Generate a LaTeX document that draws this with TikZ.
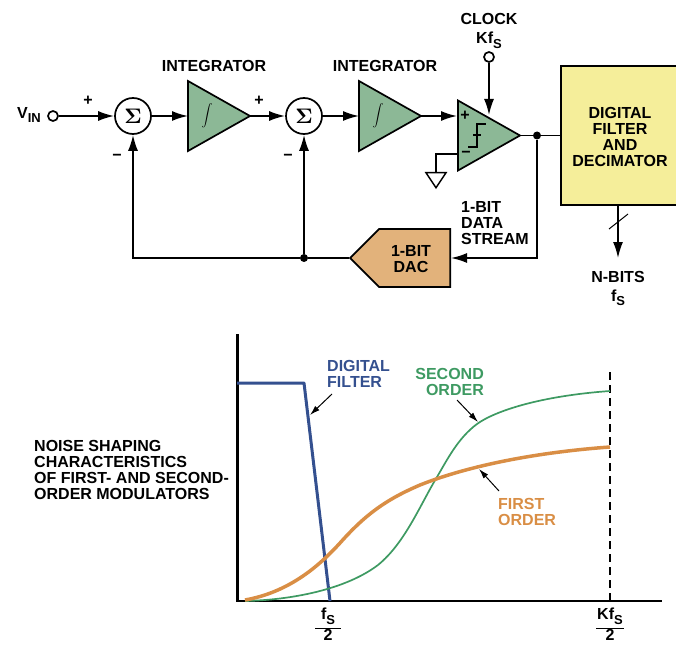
\documentclass[tikz,border=0pt]{standalone}
\usepackage{fontspec}
\usepackage{amsmath}
\setmainfont{Liberation Sans}
\usetikzlibrary{arrows.meta,shapes.geometric,shapes.symbols}
\definecolor{intgreen}{HTML}{8CB896}
\definecolor{boxyellow}{HTML}{F5EE9A}
\definecolor{dactan}{HTML}{E2B27B}
\definecolor{filtblue}{HTML}{34508F}
\definecolor{firstorange}{HTML}{D98E45}
\definecolor{secondgreen}{HTML}{3E9A62}
\def\subs#1{\raisebox{-.3em}{\fontsize{13}{13}\selectfont #1}}
\def\inputy{116}
\def\axisy{601}
\tikzset{
 lab/.style={font=\fontsize{16}{16}\bfseries\selectfont,align=center,inner sep=0pt},
 wire/.style={line width=1.7pt},
 sig/.style={wire,-{Latex[length=16pt,width=10pt]}},
 note/.style={line width=1pt,-{Latex[length=10pt,width=6pt]}},
 term/.style={circle,draw,line width=1.7pt,fill=white,minimum size=10pt,inner sep=0pt},
 sumnode/.style={circle,draw,line width=1.7pt,minimum size=36pt,inner sep=0pt},
 dotnode/.style={circle,fill=black,minimum size=8pt,inner sep=0pt},
 amp/.style={isosceles triangle,isosceles triangle stretches,draw,line width=1.7pt,fill=intgreen,
  minimum height=62pt,minimum width=70pt,inner sep=0pt,outer sep=0pt}
}

\begin{document}
\begin{tikzpicture}[x=1pt,y=-1pt]
 \useasboundingbox (0,0) rectangle (676,644);
 % Blocks
 \node[term] (vin) at (53,\inputy) {};
 \foreach \n/\x in {sumA/133,sumB/304}
  \node[sumnode] (\n) at (\x,\inputy) {\scalebox{2.1}{$\boldsymbol{\Sigma}$}};
 \foreach \n/\x in {intA/250,intB/421} {
  \node[amp,anchor=apex] (\n) at (\x,\inputy) {};
  \node[inner sep=0pt] (\n sym) at (\x-43,\inputy) {\scalebox{1.1}{$\displaystyle\int$}};
 }
 \node[amp,anchor=apex] (comp) at (520,135.5) {};
 \node[term] (clk) at (489,57) {};
 \node[draw,line width=1.7pt,fill=boxyellow,minimum width=118pt,minimum height=139pt,inner sep=0pt] (filter) at (620,135.5) {};
 \node[signal,signal to=west,signal pointer angle=90,draw,line width=1.7pt,fill=dactan,
  minimum width=100pt,minimum height=58pt,inner sep=0pt,anchor=east] (dac) at (451,258) {};
 \node[isosceles triangle,isosceles triangle stretches,shape border rotate=270,draw,line width=1.5pt,
  fill=white,minimum width=20pt,minimum height=15pt,inner sep=0pt,anchor=lower side] (gnd) at (436,172) {};
 % Junctions
 \node[dotnode] (outDot) at (537,135.5) {};
 \node[dotnode] (fbDot) at (304,258) {};
 \coordinate (compIn) at (457,\inputy);
 \coordinate (compNeg) at (457,154);
 \coordinate (clkIn) at (489,115);
 \coordinate (bitsOut) at (618,205);
 \coordinate (bitsEnd) at (618,258);
 % Forward path
 \draw[sig] (vin) -- (sumA);
 \draw[sig] (sumA) -- (intA.lower side);
 \draw[sig] (intA.apex) -- (sumB);
 \draw[sig] (sumB) -- (intB.lower side);
 \draw[sig] (intB.apex) -- (compIn);
 \draw[sig] (clk) -- (clkIn);
 \draw[wire] (comp.apex) -- (filter.west);
 \draw[wire] (compNeg) -| (gnd.lower side);
 \draw[sig] (bitsOut) -- (bitsEnd);
 \draw[line width=1pt] (609,229) -- (628,214);
 % Feedback path
 \draw[sig] (outDot) |- (dac.east);
 \draw[wire] (dac.west) -- (fbDot);
 \draw[sig] (fbDot) -| (sumA);
 \draw[sig] (fbDot) -- (sumB);
 % Comparator step
 \draw[wire] (468,147) -- (477,147) -- (477,124) -- (486,124);
 \draw[wire] (473,135) -- (481,135);
 % Block labels
 \node[lab] (vinLab) at (29,115) {V\subs{IN}};
 \node[lab] (plusA) at (88,101) {+};
 \node[lab] (plusB) at (259,101) {+};
 \node[lab] (plusC) at (465,116) {+};
 \node[lab] (minusA) at (117,157) {\textminus};
 \node[lab] (minusB) at (288,157) {\textminus};
 \node[lab] (minusC) at (466,154) {\textminus};
 \node[lab] (intALab) at (214,66) {INTEGRATOR};
 \node[lab] (intBLab) at (385,66) {INTEGRATOR};
 \node[lab] (clkLab) at (489,31) {CLOCK\\[3pt]Kf\subs{S}};
 \node[lab] (filterLab) at (620,137) {DIGITAL\\FILTER\\AND\\DECIMATOR};
 \node[lab] (dacLab) at (411,259) {1-BIT\\DAC};
 \node[lab,align=left,anchor=west] (streamLab) at (461,223) {1-BIT\\DATA\\STREAM};
 \node[lab] (bitsLab) at (618,288.5) {N-BITS\\[3pt]f\subs{S}};
 \node[lab,align=left,anchor=west] (noiseLab) at (34,470) {NOISE SHAPING\\CHARACTERISTICS\\OF FIRST- AND SECOND-\\ORDER MODULATORS};
 % Axes
 \draw[line width=2.5pt] (237.5,334) -- (237.5,\axisy) -- (662,\axisy);
 \draw[line width=1.5pt,dash pattern=on 8pt off 5pt] (610,372) -- (610,\axisy);
 % Curves
 \draw[filtblue,line width=3pt,line join=round] (237,383) -- (304,383) -- (330,\axisy);
 \draw[secondgreen,line width=1.7pt] (245,601) .. controls (290,600) and (345,590) .. (378,565)
  .. controls (405,543) and (420,505) .. (437,477) .. controls (447,460) and (458,438) .. (477,424)
  .. controls (495,411) and (540,396) .. (610,391);
 \draw[firstorange,line width=3.5pt] (245,600) .. controls (290,592) and (320,565) .. (340,543)
  .. controls (365,515) and (385,500) .. (420,485) .. controls (470,465) and (540,452) .. (610,447);
 % Curve labels
 \node[lab,text=filtblue,align=left,anchor=west] (filtLab) at (327,374) {DIGITAL\\FILTER};
 \node[lab,text=secondgreen,align=right,anchor=east] (secondLab) at (484,382) {SECOND\\ORDER};
 \node[lab,text=firstorange,align=left,anchor=west] (firstLab) at (498,512) {FIRST\\ORDER};
 \draw[note] (332,394) -- (310,415);
 \draw[note] (457,400) -- (478,422);
 \draw[note] (499,491) -- (479,469);
 % Axis labels
 \foreach \n/\x/\t/\w in {half/328/f/13,top/610/Kf/14} {
  \node[lab] (\n Num) at (\x,616) {\t\subs{S}};
  \node[lab,anchor=north] (\n Den) at (\x,629.5) {2};
  \draw[line width=1pt] (\x-\w,628) -- (\x+\w,628);
 }
\end{tikzpicture}
\end{document}
